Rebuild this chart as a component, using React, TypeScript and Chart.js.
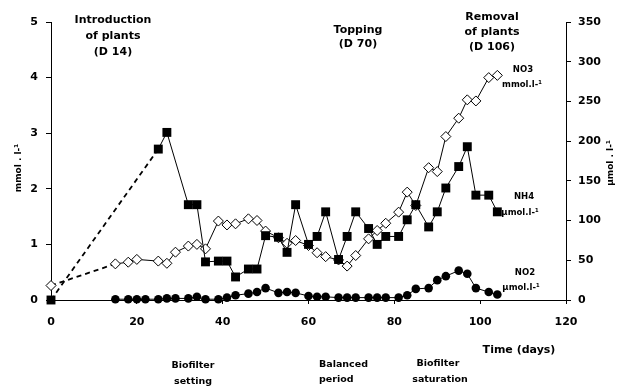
import React, { useEffect, useRef } from "react";
import { Chart, registerables } from "chart.js";

Chart.register(...registerables);

// ---- Data (days, values) ----
const no3Days = [0, 15, 18, 20, 25, 27, 29, 32, 34, 36, 39, 41, 43, 46, 48, 50, 53, 55, 57, 60, 62, 64, 67, 69, 71, 74, 76, 78, 81, 83, 85, 88, 90, 92, 95, 97, 99, 102, 104];
const no3Values = [0.26, 0.65, 0.68, 0.73, 0.7, 0.66, 0.86, 0.97, 1.0, 0.92, 1.42, 1.35, 1.37, 1.46, 1.43, 1.24, 1.12, 1.02, 1.07, 0.98, 0.85, 0.78, 0.72, 0.61, 0.8, 1.1, 1.25, 1.38, 1.58, 1.94, 1.7, 2.38, 2.31, 2.94, 3.27, 3.6, 3.58, 4.0, 4.04];

const nh4Days = [0, 25, 27, 32, 34, 36, 39, 41, 43, 46, 48, 50, 53, 55, 57, 60, 62, 64, 67, 69, 71, 74, 76, 78, 81, 83, 85, 88, 90, 92, 95, 97, 99, 102, 104];
const nh4Values = [0, 190, 211, 120, 120, 48, 49, 49, 29, 39, 39, 81, 79, 60, 120, 70, 80, 111, 51, 80, 111, 90, 70, 80, 80, 101, 120, 92, 111, 141, 168, 193, 132, 132, 111];

const no2Days = [15, 18, 20, 22, 25, 27, 29, 32, 34, 36, 39, 41, 43, 46, 48, 50, 53, 55, 57, 60, 62, 64, 67, 69, 71, 74, 76, 78, 81, 83, 85, 88, 90, 92, 95, 97, 99, 102, 104];
const no2Values = [1, 1, 1, 1, 1, 2, 2, 2, 4, 1, 1, 3, 6, 8, 10, 15, 9, 10, 9, 5, 4, 4, 3, 3, 3, 3, 3, 3, 3, 6, 14, 15, 25, 30, 37, 33, 15, 10, 7];

const xTickValues = [0, 20, 40, 60, 80, 100, 120];
const leftTickValues = [0, 1, 2, 3, 4, 5];
const rightTickValues = [0, 50, 100, 150, 200, 250, 300, 350];

const FONT = '"DejaVu Sans", Verdana, sans-serif';

type Label = [string, number, number, number, CanvasTextAlign];
const annotations: Label[] = [
  ["Introduction", 113, 20, 11, "center"],
  ["of plants", 113, 36, 11, "center"],
  ["(D 14)", 113, 52, 11, "center"],
  ["Topping", 358, 30, 11, "center"],
  ["(D 70)", 358, 44, 11, "center"],
  ["Removal", 492, 17, 11, "center"],
  ["of plants", 492, 32, 11, "center"],
  ["(D 106)", 492, 47, 11, "center"],
  ["NO3", 523, 70, 8.5, "center"],
  ["mmol.l-\u00b9", 522, 85, 8.5, "center"],
  ["NH4", 524, 197, 8.5, "center"],
  ["\u00b5mol.l-\u00b9", 520, 213, 8.5, "center"],
  ["NO2", 525, 273, 8.5, "center"],
  ["\u00b5mol.l-\u00b9", 521, 288, 8.5, "center"],
  ["Time (days)", 519, 350, 11, "center"],
  ["Biofilter", 193, 366, 9.5, "center"],
  ["setting", 193, 382, 9.5, "center"],
  ["Balanced", 319, 365, 9.5, "left"],
  ["period", 319, 380, 9.5, "left"],
  ["Biofilter", 438, 364, 9.5, "center"],
  ["saturation", 440, 380, 9.5, "center"],
];
const leftTitle = "mmol . l-\u00b9";
const rightTitle = "\u00b5mol . l-\u00b9";

const textPlugin = {
  id: "annotationText",
  afterDraw(chart: any) {
    const ctx = chart.ctx as CanvasRenderingContext2D;
    ctx.save();
    ctx.fillStyle = "#000";
    ctx.textBaseline = "middle";
    for (const [t, x, y, size, align] of annotations) {
      ctx.font = `bold ${size}px ${FONT}`;
      ctx.textAlign = align;
      ctx.fillText(t, x, y);
    }
    ctx.font = `bold 9px ${FONT}`;
    ctx.textAlign = "center";
    ctx.save();
    ctx.translate(19, 168);
    ctx.rotate(-Math.PI / 2);
    ctx.fillText(leftTitle, 0, 0);
    ctx.restore();
    ctx.save();
    ctx.translate(611, 163);
    ctx.rotate(-Math.PI / 2);
    ctx.fillText(rightTitle, 0, 0);
    ctx.restore();
    ctx.restore();
  },
};

const toPoints = (xs: number[], ys: number[]) => xs.map((x, i) => ({ x, y: ys[i] }));

export default function App() {
  const ref = useRef<HTMLCanvasElement | null>(null);

  useEffect(() => {
    document.body.style.margin = "0";
    const canvas = ref.current;
    if (!canvas) return;
    const tickFont = { family: FONT, size: 11, weight: "bold" as const };
    const chart = new Chart(canvas, {
      type: "line",
      data: {
        datasets: [
          {
            label: "NH4",
            data: toPoints(nh4Days, nh4Values),
            yAxisID: "y2",
            order: 0,
            borderColor: "#000",
            borderWidth: 1,
            backgroundColor: "#000",
            pointStyle: "rect",
            pointRadius: 6.3,
            pointBackgroundColor: "#000",
            pointBorderColor: "#000",
            pointBorderWidth: 0,
            clip: false,
            segment: {
              borderDash: (c: any) => (c.p0DataIndex === 0 ? [5, 4] : undefined),
              borderWidth: (c: any) => (c.p0DataIndex === 0 ? 1.8 : 1),
            },
          },
          {
            label: "NO3",
            data: toPoints(no3Days, no3Values),
            yAxisID: "y",
            order: 1,
            borderColor: "#000",
            borderWidth: 1,
            pointStyle: "rectRot",
            pointRadius: 5,
            pointBackgroundColor: "#fff",
            pointBorderColor: "#000",
            pointBorderWidth: 1,
            clip: false,
            segment: {
              borderDash: (c: any) => (c.p0DataIndex === 0 ? [5, 4] : undefined),
              borderWidth: (c: any) => (c.p0DataIndex === 0 ? 1.8 : 1),
            },
          },
          {
            label: "NO2",
            data: toPoints(no2Days, no2Values),
            yAxisID: "y2",
            order: 2,
            borderColor: "#000",
            borderWidth: 1,
            pointStyle: "circle",
            pointRadius: 4.3,
            pointBackgroundColor: "#000",
            pointBorderColor: "#000",
            pointBorderWidth: 0,
            clip: false,
          },
        ],
      },
      options: {
        animation: false,
        responsive: false,
        maintainAspectRatio: false,
        layout: { padding: { top: 22, left: 0, right: 0, bottom: 0 } },
        plugins: { legend: { display: false }, tooltip: { enabled: false } },
        scales: {
          x: {
            type: "linear",
            min: 0,
            max: 120,
            afterBuildTicks: (s: any) => {
              s.ticks = xTickValues.map((v) => ({ value: v }));
            },
            afterFit: (s: any) => {
              s.height = 88;
            },
            ticks: { color: "#000", font: tickFont, padding: 12, maxRotation: 0 },
            grid: { drawOnChartArea: false, tickLength: 4, color: "#000" },
            border: { color: "#000", width: 1 },
          },
          y: {
            position: "left",
            min: 0,
            max: 5,
            afterBuildTicks: (s: any) => {
              s.ticks = leftTickValues.map((v) => ({ value: v }));
            },
            afterFit: (s: any) => {
              s.width = 51;
            },
            ticks: { color: "#000", font: tickFont, padding: 8 },
            grid: { drawOnChartArea: false, tickLength: 5, color: "#000" },
            border: { color: "#000", width: 1 },
          },
          y2: {
            position: "right",
            min: 0,
            max: 350,
            afterBuildTicks: (s: any) => {
              s.ticks = rightTickValues.map((v) => ({ value: v }));
            },
            afterFit: (s: any) => {
              s.width = 51;
            },
            ticks: { color: "#000", font: tickFont, padding: 7 },
            grid: { drawOnChartArea: false, tickLength: 5, color: "#000" },
            border: { color: "#000", width: 1 },
          },
        },
      },
      plugins: [textPlugin],
    });
    return () => chart.destroy();
  }, []);

  return (
    <div style={{ position: "absolute", left: 0, top: 0, width: 617, height: 388, background: "#fff" }}>
      <canvas ref={ref} width={617} height={388} style={{ display: "block" }} />
    </div>
  );
}
